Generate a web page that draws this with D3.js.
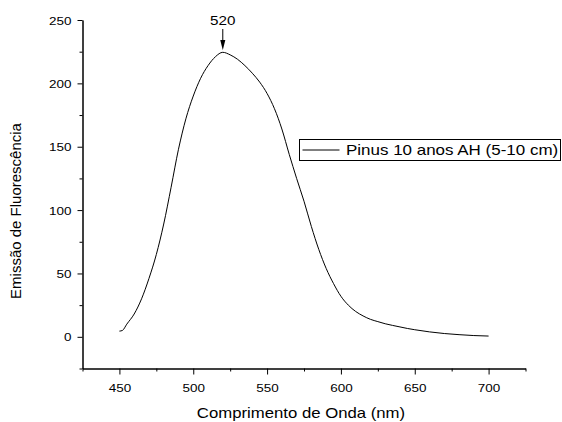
<!DOCTYPE html>
<html><head><meta charset="utf-8">
<script src="https://cdn.jsdelivr.net/npm/d3@7"></script>
<style>body{margin:0;background:#fff}svg{display:block}text{font-family:"Liberation Sans",Arial,sans-serif;fill:#000}</style>
</head><body>
<svg id="c" width="562" height="422"></svg>
<script>
const wavelength = [450,452,455,460,465,470,475,480,485,490,495,500,505,510,515,520,525,530,535,540,545,550,555,560,565,570,575,580,585,590,595,600,605,610,615,620,625,630,635,640,645,650,660,670,680,690,700];
const emission   = [4.5,5,10,18,30,46,65,89,118,148,172,190,204,214,221,224.5,222.5,219,214,208,201,192,180,164,144,125,107,87,69,54,42,32,25,20,16.5,13.8,12,10.3,9,7.8,6.6,5.6,3.9,2.6,1.7,1,0.6];
const xMajor = [450,500,550,600,650,700];
const xMinor = [425,475,525,575,625,675,725];
const yMajor = [0,50,100,150,200,250];
const yMinor = [-25,25,75,125,175,225];
const seriesName = "Pinus 10 anos AH (5-10 cm)";
const peakLabel = "520";
const peakX = 520, peakY = 224.5;

const svg = d3.select("#c");
const x = d3.scaleLinear().domain([425,725]).range([82.5,525.5]);
const y = d3.scaleLinear().domain([-25,250]).range([368.5,20]);
const STRETCH = 1.17;

// axes
const gx = svg.append("g").attr("transform","translate(0,368.5)");
gx.call(d3.axisBottom(x).tickValues(xMajor).tickSize(6).tickSizeOuter(0).tickPadding(3).tickFormat(d3.format("d")));
gx.append("g").call(d3.axisBottom(x).tickValues(xMinor).tickSize(3).tickSizeOuter(0).tickFormat(""));
const gy = svg.append("g").attr("transform","translate(82.5,0)");
gy.call(d3.axisLeft(y).tickValues(yMajor).tickSize(5).tickSizeOuter(0).tickPadding(6).tickFormat(d3.format("d")));
gy.append("g").call(d3.axisLeft(y).tickValues(yMinor).tickSize(3).tickSizeOuter(0).tickFormat(""));
svg.selectAll(".domain").attr("stroke","#000").attr("stroke-width",1);
svg.selectAll(".tick line").attr("stroke","#000");
svg.selectAll(".tick text").attr("font-size",11.5).attr("font-family",null).attr("class","st");
gx.selectAll(".tick text").attr("dy",null).attr("y",23.5);
gy.selectAll(".tick text").attr("dy","0.36em");

// curve
svg.append("path")
  .datum(wavelength.map((w,i)=>[w,emission[i]]))
  .attr("fill","none").attr("stroke","#000").attr("stroke-width",1)
  .attr("d", d3.line().x(d=>x(d[0])).y(d=>y(d[1])).curve(d3.curveMonotoneX));

// peak annotation
const px = x(peakX);
svg.append("text").attr("class","st").attr("x",px).attr("y",25).attr("text-anchor","middle").attr("font-size",13).text(peakLabel);
svg.append("line").attr("x1",px).attr("x2",px).attr("y1",29).attr("y2",41).attr("stroke","#000").attr("stroke-width",1);
svg.append("path").attr("d",`M${px-2.5},40 L${px+2.5},40 L${px},${y(peakY)-2} Z`).attr("fill","#000");

// axis titles
svg.append("text").attr("class","st").attr("x",301).attr("y",418).attr("text-anchor","middle").attr("font-size",14.3).text("Comprimento de Onda (nm)");
svg.append("text").attr("transform","translate(21,211) rotate(-90)").attr("text-anchor","middle").attr("font-size",15).text("Emissão de Fluorescência");

// legend
svg.append("rect").attr("x",299.5).attr("y",139.5).attr("width",261).attr("height",21).attr("fill","#fff").attr("stroke","#000");
svg.append("line").attr("x1",302.5).attr("x2",339.5).attr("y1",150).attr("y2",150).attr("stroke","#000").attr("stroke-width",1);
svg.append("text").attr("class","st").attr("x",346).attr("y",155).attr("font-size",14.5).text(seriesName);

// horizontal stretch of text as in reference
svg.selectAll("text.st").each(function(){
  const len = this.getComputedTextLength();
  d3.select(this).attr("textLength", len*STRETCH).attr("lengthAdjust","spacingAndGlyphs");
});
</script>
</body></html>
